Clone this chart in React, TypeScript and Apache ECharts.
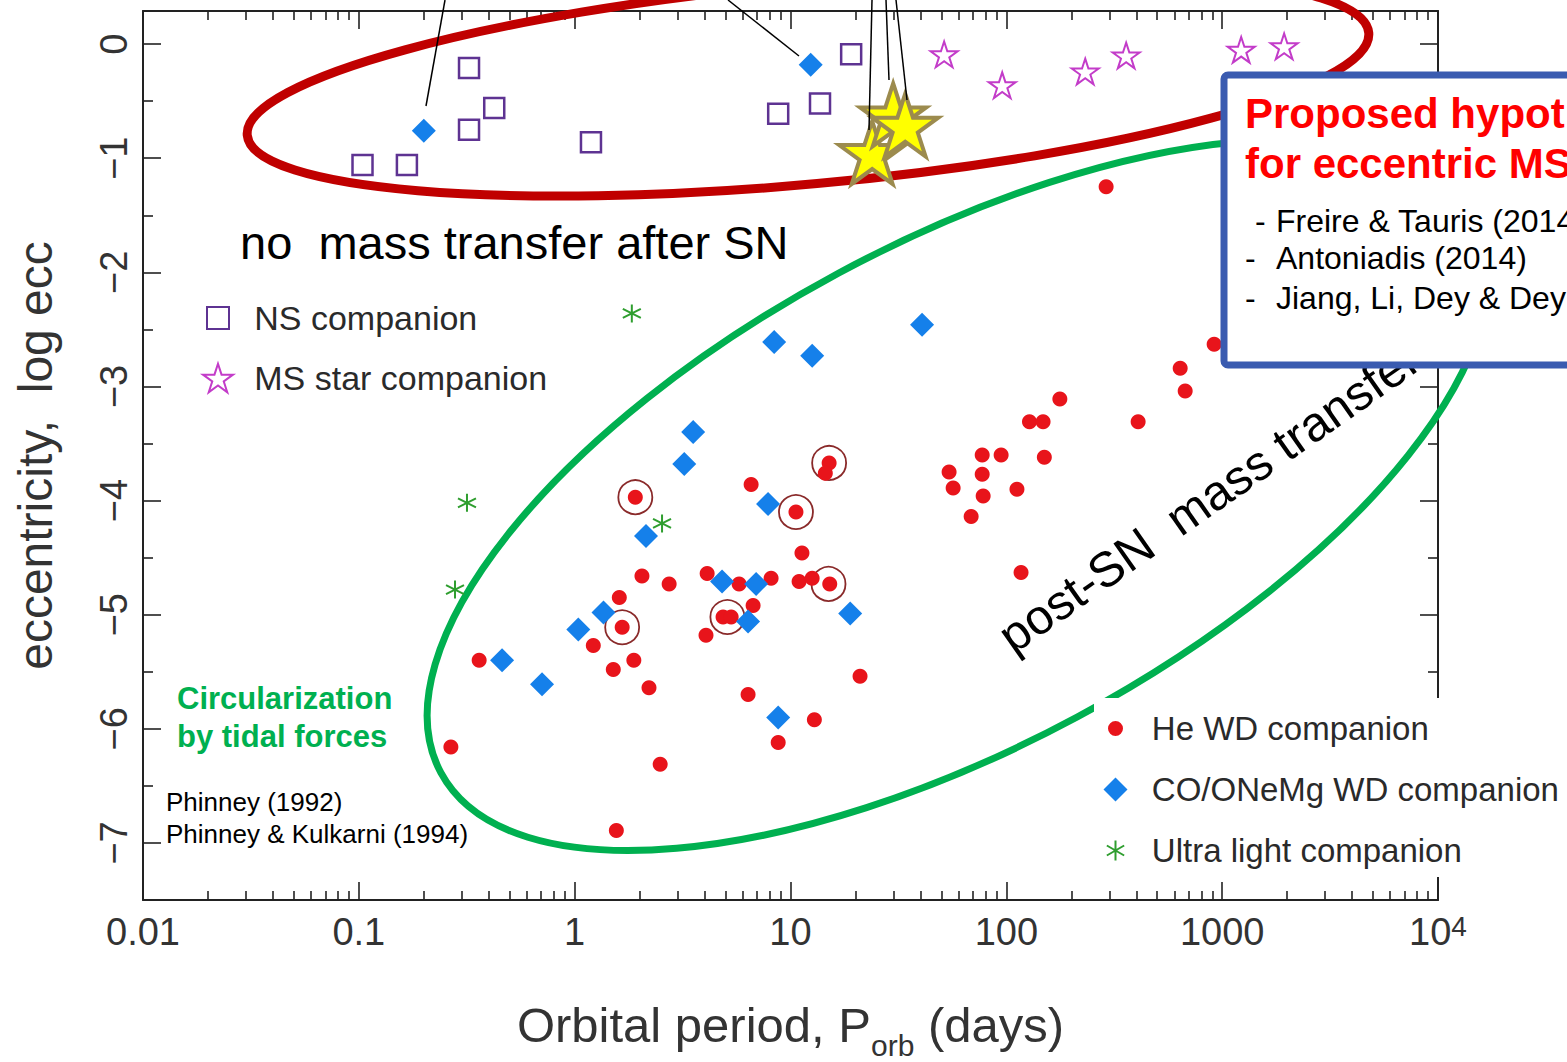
import React, { useEffect, useRef } from 'react';
import * as echarts from 'echarts';

// ---------- data (orbital period in days, log10 eccentricity) ----------
const nsPeriod = [0.104, 0.167, 0.324, 0.324, 0.424, 1.19, 8.77, 13.7, 19.1];
const nsLogEcc = [-1.06, -1.06, -0.21, -0.75, -0.56, -0.86, -0.61, -0.52, -0.09];

const msPeriod = [51.5, 95.7, 232, 359, 1225, 1937];
const msLogEcc = [-0.09, -0.36, -0.24, -0.1, -0.05, -0.02];

const hePeriod = [2.05, 2.74, 4.11, 5.78, 8.13, 10.96, 12.6, 15.2, 1.61, 1.66, 1.22, 0.361, 1.51, 1.88, 2.21, 6.71, 4.06, 4.87, 5.31, 21.0, 6.36, 12.9, 8.77, 0.267, 2.49, 1.56, 1.91, 6.57, 10.6, 15.1, 14.5, 11.3, 290, 918, 639, 674, 177, 128, 148, 408, 77.3, 94.6, 150, 54.3, 77.3, 56.7, 78.1, 112, 68.7, 117];
const heLogEcc = [-4.66, -4.73, -4.64, -4.73, -4.68, -4.71, -4.68, -4.73, -4.85, -5.11, -5.27, -5.4, -5.48, -5.4, -5.64, -4.92, -5.18, -5.02, -5.02, -5.54, -5.7, -5.92, -6.12, -6.16, -6.31, -6.89, -3.97, -3.86, -4.1, -3.67, -3.76, -4.46, -1.25, -2.63, -2.84, -3.04, -3.11, -3.31, -3.31, -3.31, -3.6, -3.6, -3.62, -3.75, -3.77, -3.89, -3.96, -3.9, -4.14, -4.63];

const coPeriod = [0.2, 12.4, 40.7, 8.4, 12.6, 3.54, 3.22, 7.87, 2.14, 4.82, 6.93, 6.36, 1.36, 1.04, 0.461, 0.706, 18.9, 8.77];
const coLogEcc = [-0.76, -0.18, -2.46, -2.61, -2.73, -3.4, -3.68, -4.03, -4.31, -4.71, -4.73, -5.06, -4.98, -5.13, -5.4, -5.61, -4.99, -5.9];

const ulPeriod = [1.84, 0.317, 2.54, 0.279];
const ulLogEcc = [-2.36, -4.02, -4.2, -4.78];

const ringPeriod = [1.91, 10.6, 15.1, 5.1, 1.66, 15.0];
const ringLogEcc = [-3.97, -4.1, -3.67, -5.02, -5.11, -4.73];

const eccMspPeriod = [23.9, 29.9, 34.0];
const eccMspLogEcc = [-0.95, -0.62, -0.71];

// ---------- axis ticks ----------
const xTickLabels = ['0.01', '0.1', '1', '10', '100', '1000', '10^4'];
const yTickValues = [-7, -6, -5, -4, -3, -2, -1, 0];
const yHalfTicks = [-6.5, -5.5, -4.5, -3.5, -2.5, -1.5, -0.5];
const xMinorTicks: number[] = [];
for (let d = -2; d < 4; d++) for (let k = 2; k <= 9; k++) xMinorTicks.push(d + Math.log10(k));

const FONT = "'Liberation Sans', Arial, sans-serif";
const AX = '#222';
const TXT = '#2a2a2a';

const STAR = 'path://M0,-1L0.2245,-0.309L0.951,-0.309L0.363,0.118L0.588,0.809L0,0.382L-0.588,0.809L-0.363,0.118L-0.951,-0.309L-0.2245,-0.309Z';
const ASTER = 'path://M0,-1L0,1M-0.866,-0.5L0.866,0.5M-0.866,0.5L0.866,-0.5';
const NS_ICON = 'path://M-15,-15M15,15M-11,-11L11,-11L11,11L-11,11Z';
const HE_ICON = 'path://M-13,-13M13,13M7.5,0A7.5,7.5,0,1,1,-7.5,0A7.5,7.5,0,1,1,7.5,0Z';
const CO_ICON = 'path://M-13,-13M13,13M0,-12L12,0L0,12L-12,0Z';
const UL_ICON = 'path://M-13,-13M13,13M0,-10L0,10M-8.66,-5L8.66,5M-8.66,5L8.66,-5';

const pts = (p: number[], e: number[]) => p.map((v, i) => [Math.log10(v), e[i]]);
const deg = (a: number) => (a * Math.PI) / 180;

export default function App() {
  const ref = useRef<HTMLDivElement>(null);
  useEffect(() => {
    const chart = echarts.init(ref.current!, undefined, { renderer: 'svg' });

    const xBase: any = {
      type: 'value', min: -2, max: 4, gridIndex: 0,
      splitLine: { show: false }, nameMoveOverlap: false,
    };
    const yBase: any = {
      type: 'value', min: -7.5, max: 0.29, gridIndex: 0,
      splitLine: { show: false }, nameMoveOverlap: false,
    };
    const lineOn = { show: true, onZero: false, lineStyle: { color: AX, width: 2 } };
    const lineOff = { show: false, onZero: false };
    const tickStyle = { color: AX, width: 1.6 };

    const fmtX = (v: number) => {
      const s = xTickLabels[Math.round(v + 2)];
      return s === '10^4' ? '{n|10}{p|4}' : s;
    };

    const option: any = {
      animation: false,
      backgroundColor: '#fff',
      grid: { left: 143, top: 11, width: 1295, height: 889, containLabel: false, outerBoundsMode: 'none' },
      xAxis: [
        {
          ...xBase, position: 'bottom', interval: 1, axisLine: lineOn,
          axisTick: { inside: true, length: 18, lineStyle: tickStyle },
          axisLabel: {
            margin: 12, fontSize: 38, lineHeight: 40, color: '#333', fontFamily: FONT, formatter: fmtX,
            rich: {
              n: { fontSize: 38, lineHeight: 40, color: '#333', fontFamily: FONT },
              p: { fontSize: 28, lineHeight: 18, color: '#333', fontFamily: FONT, verticalAlign: 'top' },
            },
          },
          name: '{m|Orbital period, P}{s|orb}{m| (days)}',
          nameLocation: 'middle', nameGap: 114,
          nameTextStyle: {
            fontSize: 49, fontFamily: FONT, color: '#333',
            rich: {
              m: { fontSize: 49, lineHeight: 46, fontFamily: FONT, color: '#333', padding: [0, 0, 11, 0], verticalAlign: 'bottom' },
              s: { fontSize: 30, lineHeight: 30, fontFamily: FONT, color: '#333', verticalAlign: 'bottom' },
            },
          },
        },
        {
          ...xBase, position: 'bottom', axisLine: lineOff, axisLabel: { show: false },
          axisTick: { inside: true, length: 9, customValues: xMinorTicks, lineStyle: tickStyle },
        },
        {
          ...xBase, position: 'top', interval: 1, axisLine: lineOn, axisLabel: { show: false },
          axisTick: { inside: true, length: 18, lineStyle: tickStyle },
        },
        {
          ...xBase, position: 'top', axisLine: lineOff, axisLabel: { show: false },
          axisTick: { inside: true, length: 9, customValues: xMinorTicks, lineStyle: tickStyle },
        },
      ],
      yAxis: [
        {
          ...yBase, position: 'left', axisLine: lineOn,
          axisTick: { inside: true, length: 18, customValues: yTickValues, lineStyle: tickStyle },
          axisLabel: {
            customValues: yTickValues, rotate: 90, margin: 10, fontSize: 38, color: '#333', fontFamily: FONT,
            formatter: (v: number) => (v < 0 ? '\u2212' + Math.abs(v) : String(v)),
          },
          name: 'eccentricity,  log ecc', nameLocation: 'middle', nameGap: 84,
          nameTextStyle: { fontSize: 48, fontFamily: FONT, color: '#333' },
        },
        {
          ...yBase, position: 'left', axisLine: lineOff, axisLabel: { show: false },
          axisTick: { inside: true, length: 10, customValues: yHalfTicks, lineStyle: tickStyle },
        },
        {
          ...yBase, position: 'right', axisLine: lineOn, axisLabel: { show: false },
          axisTick: { inside: true, length: 18, customValues: yTickValues, lineStyle: tickStyle },
        },
        {
          ...yBase, position: 'right', axisLine: lineOff, axisLabel: { show: false },
          axisTick: { inside: true, length: 10, customValues: yHalfTicks, lineStyle: tickStyle },
        },
      ],
      legend: [
        {
          data: [{ name: 'NS companion', icon: NS_ICON }, { name: 'MS star companion', icon: STAR }],
          orient: 'vertical', left: 202, top: 301, itemWidth: 30, itemHeight: 30, itemGap: 26, padding: 0,
          selectedMode: false, formatter: (n: string) => ' \u2009' + n,
          textStyle: { fontSize: 34, color: TXT, fontFamily: FONT },
        },
        {
          data: [
            { name: 'He WD companion', icon: HE_ICON },
            { name: 'CO/ONeMg WD companion', icon: CO_ICON },
            { name: 'Ultra light companion', icon: UL_ICON },
          ],
          orient: 'vertical', left: 1094, top: 698, itemWidth: 26, itemHeight: 26, itemGap: 28,
          padding: [14, 30, 10, 6], backgroundColor: '#fff',
          selectedMode: false, formatter: (n: string) => '  ' + n,
          textStyle: { fontSize: 33, color: TXT, fontFamily: FONT },
        },
      ],
      series: [
        {
          name: 'cluster rings', type: 'scatter', silent: true, symbol: 'circle', symbolSize: 34,
          data: pts(ringPeriod, ringLogEcc),
          itemStyle: { color: 'rgba(255,255,255,0)', borderColor: '#8a2a2a', borderWidth: 1.8, opacity: 1 },
        },
        {
          name: 'NS companion', type: 'scatter', silent: true, symbol: 'rect', symbolSize: 20,
          data: pts(nsPeriod, nsLogEcc),
          itemStyle: { color: 'rgba(255,255,255,0)', borderColor: '#5e3392', borderWidth: 2.5, opacity: 1 },
        },
        {
          name: 'MS star companion', type: 'scatter', silent: true, symbol: STAR, symbolKeepAspect: true, symbolSize: 27,
          data: pts(msPeriod, msLogEcc),
          itemStyle: { color: 'rgba(255,255,255,0)', borderColor: '#c33cc9', borderWidth: 2, opacity: 1 },
        },
        {
          name: 'He WD companion', type: 'scatter', silent: true, symbol: 'circle', symbolSize: 15,
          data: pts(hePeriod, heLogEcc),
          itemStyle: { color: '#e8141b', opacity: 1 },
        },
        {
          name: 'CO/ONeMg WD companion', type: 'scatter', silent: true, symbol: 'diamond', symbolSize: 24,
          data: pts(coPeriod, coLogEcc),
          itemStyle: { color: '#1580ea', opacity: 1 },
        },
        {
          name: 'Ultra light companion', type: 'scatter', silent: true, symbol: ASTER, symbolSize: 18,
          data: pts(ulPeriod, ulLogEcc),
          itemStyle: { color: 'none', borderColor: '#2f9e2f', borderWidth: 2, opacity: 1 },
        },
        {
          name: 'eccentric MSPs', type: 'scatter', silent: true, symbol: STAR, symbolKeepAspect: true, symbolSize: 66,
          data: pts(eccMspPeriod, eccMspLogEcc), z: 3,
          itemStyle: { color: '#ffff00', borderColor: '#9c8b4e', borderWidth: 4, opacity: 1 },
        },
      ],
      graphic: {
        elements: [
          {
            type: 'ellipse', x: 808, y: 84, rotation: deg(5.2), z: 1, silent: true,
            shape: { cx: 0, cy: 0, rx: 563, ry: 100 },
            style: { fill: 'none', stroke: '#c00000', lineWidth: 9 },
          },
          {
            type: 'ellipse', x: 958, y: 495, rotation: deg(28.2), z: 1, silent: true,
            shape: { cx: 0, cy: 0, rx: 587, ry: 252 },
            style: { fill: 'none', stroke: '#00b050', lineWidth: 7 },
          },
          { type: 'line', z: 20, shape: { x1: 445, y1: 0, x2: 426, y2: 106 }, style: { stroke: '#000', lineWidth: 1.5 } },
          { type: 'line', z: 20, shape: { x1: 728, y1: 0, x2: 799, y2: 56 }, style: { stroke: '#000', lineWidth: 1.5 } },
          { type: 'line', z: 20, shape: { x1: 872, y1: 0, x2: 869, y2: 130 }, style: { stroke: '#000', lineWidth: 1.5 } },
          { type: 'line', z: 20, shape: { x1: 886, y1: 0, x2: 889, y2: 80 }, style: { stroke: '#000', lineWidth: 1.5 } },
          { type: 'line', z: 20, shape: { x1: 896, y1: 0, x2: 907, y2: 100 }, style: { stroke: '#000', lineWidth: 1.5 } },
          {
            type: 'text', x: 240, y: 242, z: 30,
            style: { text: 'no  mass transfer after SN', fontSize: 47, fontFamily: FONT, fill: '#000', verticalAlign: 'middle' },
          },
          {
            type: 'text', x: 1209, y: 497, rotation: deg(35), z: 50,
            style: { text: 'post-SN  mass transfer', fontSize: 49, fontFamily: FONT, fill: '#000', align: 'center', verticalAlign: 'middle' },
          },
          {
            type: 'text', x: 177, y: 698, z: 30,
            style: { text: 'Circularization', fontSize: 31, fontWeight: 'bold', fontFamily: FONT, fill: '#00b050', verticalAlign: 'middle' },
          },
          {
            type: 'text', x: 177, y: 736, z: 30,
            style: { text: 'by tidal forces', fontSize: 31, fontWeight: 'bold', fontFamily: FONT, fill: '#00b050', verticalAlign: 'middle' },
          },
          {
            type: 'text', x: 166, y: 802, z: 30,
            style: { text: 'Phinney (1992)', fontSize: 26, fontFamily: FONT, fill: '#000', verticalAlign: 'middle' },
          },
          {
            type: 'text', x: 166, y: 834, z: 30,
            style: { text: 'Phinney & Kulkarni (1994)', fontSize: 26, fontFamily: FONT, fill: '#000', verticalAlign: 'middle' },
          },
          {
            type: 'rect', z: 100, shape: { x: 1224, y: 75, width: 420, height: 290, r: 4 },
            style: { fill: '#fff', stroke: '#3a5bb0', lineWidth: 7 },
          },
          {
            type: 'text', x: 1245, y: 113, z: 101,
            style: { text: 'Proposed hypotheses', fontSize: 42, fontWeight: 'bold', fontFamily: FONT, fill: '#ff0000', verticalAlign: 'middle' },
          },
          {
            type: 'text', x: 1245, y: 163, z: 101,
            style: { text: 'for eccentric MSPs', fontSize: 42, fontWeight: 'bold', fontFamily: FONT, fill: '#ff0000', verticalAlign: 'middle' },
          },
          { type: 'text', x: 1255, y: 221, z: 101, style: { text: '-', fontSize: 32, fontFamily: FONT, fill: '#000', verticalAlign: 'middle' } },
          { type: 'text', x: 1276, y: 221, z: 101, style: { text: 'Freire & Tauris (2014)', fontSize: 32, fontFamily: FONT, fill: '#000', verticalAlign: 'middle' } },
          { type: 'text', x: 1245, y: 258, z: 101, style: { text: '-', fontSize: 32, fontFamily: FONT, fill: '#000', verticalAlign: 'middle' } },
          { type: 'text', x: 1276, y: 258, z: 101, style: { text: 'Antoniadis (2014)', fontSize: 32, fontFamily: FONT, fill: '#000', verticalAlign: 'middle' } },
          { type: 'text', x: 1245, y: 298, z: 101, style: { text: '-', fontSize: 32, fontFamily: FONT, fill: '#000', verticalAlign: 'middle' } },
          { type: 'text', x: 1276, y: 298, z: 101, style: { text: 'Jiang, Li, Dey & Dey (2015)', fontSize: 32, fontFamily: FONT, fill: '#000', verticalAlign: 'middle' } },
        ],
      },
    };

    chart.setOption(option);
    return () => chart.dispose();
  }, []);

  return (
    <div
      ref={ref}
      style={{ position: 'absolute', left: 0, top: 0, width: 1567, height: 1062, background: '#fff' }}
    />
  );
}
